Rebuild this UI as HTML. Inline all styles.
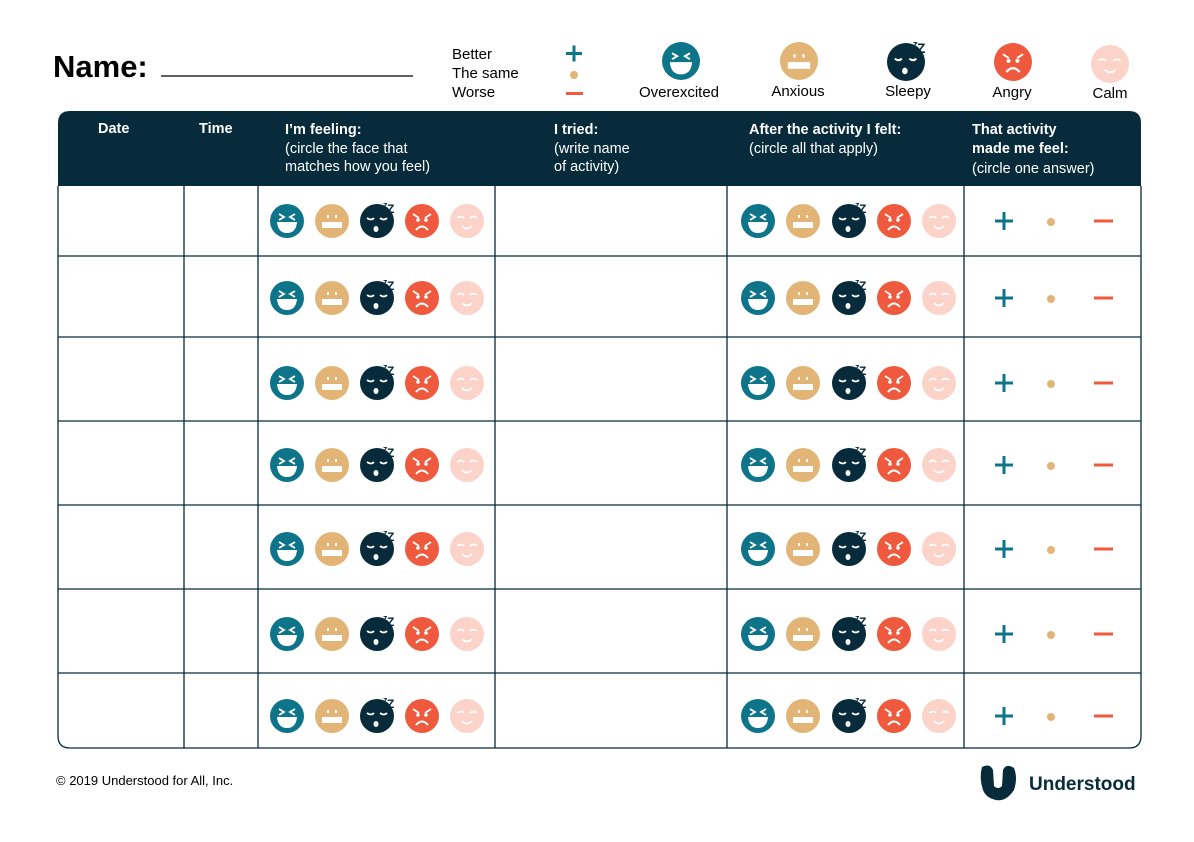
<!DOCTYPE html>
<html><head><meta charset="utf-8"><style>
html,body{margin:0;padding:0;background:#fff;}
body{width:1194px;height:837px;overflow:hidden;font-family:"Liberation Sans",sans-serif;}
svg text{font-family:"Liberation Sans",sans-serif;}
</style></head><body>
<svg id="s" width="1194" height="837" viewBox="0 0 1194 837" xmlns="http://www.w3.org/2000/svg">
<text x="53" y="77" font-size="31" font-weight="bold" fill="#000">Name:</text>
<line x1="161" y1="76" x2="413" y2="76" stroke="#000" stroke-width="1.3"/>
<g font-size="15" fill="#000">
<text x="452" y="59">Better</text><text x="452" y="78">The same</text><text x="452" y="97">Worse</text>
</g>
<g>
<rect x="566" y="52" width="16" height="3" fill="#0e7489"/><rect x="572.5" y="45.5" width="3" height="16" fill="#0e7489"/>
<circle cx="574" cy="75" r="4" fill="#e2b577"/>
<rect x="566" y="92" width="17" height="3" fill="#ef5a3e"/>
</g>
<g font-size="15" fill="#000" text-anchor="middle">
<text x="679" y="97">Overexcited</text><text x="798" y="96">Anxious</text><text x="908" y="96">Sleepy</text><text x="1012" y="97">Angry</text><text x="1110" y="98">Calm</text>
</g>
<g id="legendfaces"></g>
<path d="M70,111 H1129 Q1141,111 1141,123 V186 H58 V123 Q58,111 70,111 Z" fill="#072b3a"/>
<path d="M58,186 V736 Q58,748 70,748 H1129 Q1141,748 1141,736 V186" fill="none" stroke="#072b3a" stroke-width="1.3"/>
<g id="grid" stroke="#072b3a" stroke-width="1.3"></g>
<g fill="#fff" font-size="14.5">
<text x="98" y="133" font-weight="bold">Date</text>
<text x="199" y="133" font-weight="bold">Time</text>
<text x="285" y="134" font-weight="bold">I’m feeling:</text>
<text x="285" y="153">(circle the face that</text>
<text x="285" y="171">matches how you feel)</text>
<text x="554" y="134" font-weight="bold">I tried:</text>
<text x="554" y="153">(write name</text>
<text x="554" y="171">of activity)</text>
<text x="749" y="134" font-weight="bold">After the activity I felt:</text>
<text x="749" y="153">(circle all that apply)</text>
<text x="972" y="134" font-weight="bold">That activity</text>
<text x="972" y="153" font-weight="bold">made me feel:</text>
<text x="972" y="173">(circle one answer)</text>
</g>
<g id="rows"></g>
<text x="56" y="785" font-size="13" fill="#000">© 2019 Understood for All, Inc.</text>
<g>
<path d="M982,767 Q990,763 993,770 L994,786 Q998,790 1002,786 L1003,770 Q1006,763 1014,768 Q1018,778 1014,790 Q1006,802 996,800 Q986,798 983,790 Q979,778 982,767 Z" fill="#072b3a"/>
<text x="1029" y="790" font-size="19" font-weight="bold" fill="#072b3a">Understood</text>
</g>
</svg>
<script>
const NS="http://www.w3.org/2000/svg";
const rowBounds=[186,256,337,421,505,589,673,748];
const colLines=[184,258,495,727,964];
const faceColors=["#0e7489","#e2b577","#072b3a","#ef5a3e","#fbd3c9"];
const faceNames=["overexcited","anxious","sleepy","angry","calm"];
const leftX=[287,332,377,422,467];
const rightX=[758,803,849,894,939];
function el(tag,attrs,parent){const e=document.createElementNS(NS,tag);for(const k in attrs)e.setAttribute(k,attrs[k]);parent.appendChild(e);return e;}
function face(parent,i,cx,cy,r){
  const g=el('g',{},parent);
  
  
  el('circle',{cx:cx,cy:cy,r:r,fill:faceColors[i]},g);
  const w='#fff',s=r/17;
  if(i===0){
    el('path',{d:`M${cx-8*s},${cy-7*s} l5,3 l-5,3 M${cx+8*s},${cy-7*s} l-5,3 l5,3`,stroke:w,'stroke-width':1.8*s,fill:'none'},g);
    el('path',{d:`M${cx-10*s},${cy+1*s} H${cx+10*s} Q${cx+9*s},${cy+12*s} ${cx},${cy+12*s} Q${cx-9*s},${cy+12*s} ${cx-10*s},${cy+1*s}Z`,fill:w},g);
  }else if(i===1){
    el('rect',{x:cx-5*s,y:cy-6*s,width:2*s,height:3*s,fill:w},g);
    el('rect',{x:cx+3*s,y:cy-6*s,width:2*s,height:3*s,fill:w},g);
    el('rect',{x:cx-10*s,y:cy+1*s,width:20*s,height:6*s,fill:w},g);
  }else if(i===2){
    el('path',{d:`M${cx-10*s},${cy-3*s} q4,3 7,0 M${cx+3*s},${cy-3*s} q4,3 7,0`,stroke:w,'stroke-width':1.8*s,fill:'none'},g);
    el('ellipse',{cx:cx-1*s,cy:cy+8*s,rx:2.5*s,ry:3*s,fill:w},g);
    el('text',{x:cx+6*s,y:cy-13*s,'font-size':9*s,'font-weight':'bold',fill:'#072b3a'},g).textContent='z';
    el('text',{x:cx+10*s,y:cy-8*s,'font-size':12*s,'font-weight':'bold',fill:'#072b3a'},g).textContent='Z';
  }else if(i===3){
    el('path',{d:`M${cx-9*s},${cy-7*s} l6,4 M${cx+9*s},${cy-7*s} l-6,4`,stroke:w,'stroke-width':1.8*s},g);
    el('circle',{cx:cx-4*s,cy:cy-1*s,r:1.8*s,fill:w},g);
    el('circle',{cx:cx+4*s,cy:cy-1*s,r:1.8*s,fill:w},g);
    el('path',{d:`M${cx-6*s},${cy+9*s} Q${cx},${cy+2*s} ${cx+6*s},${cy+9*s}`,stroke:w,'stroke-width':2*s,fill:'none'},g);
  }else{
    el('path',{d:`M${cx-10*s},${cy-3*s} q4,-3 7,0 M${cx+3*s},${cy-3*s} q4,-3 7,0`,stroke:w,'stroke-width':1.6*s,fill:'none'},g);
    el('path',{d:`M${cx-5*s},${cy+5*s} Q${cx},${cy+10*s} ${cx+5*s},${cy+5*s}`,stroke:w,'stroke-width':1.6*s,fill:'none'},g);
  }
}
const lg=document.getElementById('legendfaces');
const legX=[681,799,906,1013,1110];
const legY=[61,61,62,62,64];
legX.forEach((x,i)=>face(lg,i,x,legY[i],19));
const grid=document.getElementById('grid');


rowBounds.slice(1,-1).forEach(y=>el('line',{x1:58,y1:y,x2:1141,y2:y},grid));
colLines.forEach(x=>el('line',{x1:x,y1:186,x2:x,y2:748},grid));
const rows=document.getElementById('rows');
const rowCY=[221,298,383,465,549,634,716];
rowCY.forEach((cy,r)=>{
  const g=el('g',{},rows);
  
  
  leftX.forEach((x,i)=>face(g,i,x,cy,17));
  rightX.forEach((x,i)=>face(g,i,x,cy,17));
  const p=el('g',{},g);
  
  
  el('rect',{x:995,y:cy-1.5,width:18,height:3,fill:'#0e7489'},p);
  el('rect',{x:1002.5,y:cy-9,width:3,height:18,fill:'#0e7489'},p);
  const d=el('circle',{cx:1051,cy:cy+1,r:4,fill:'#e2b577'},g);
  
  
  const m=el('rect',{x:1094,y:cy-1.5,width:19,height:3,fill:'#ef5a3e'},g);
  
  
});
</script>
</body></html>
